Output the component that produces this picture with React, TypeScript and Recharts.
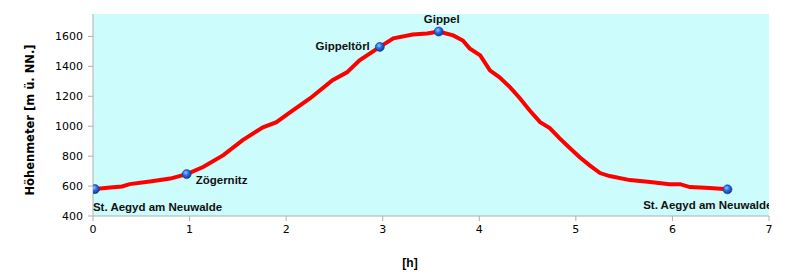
import React from "react";
import {
  ComposedChart,
  Line,
  Scatter,
  XAxis,
  YAxis,
  CartesianGrid,
  ReferenceArea,
} from "recharts";

// elevation profile
const hours = [
  0.02, 0.18, 0.3, 0.38, 0.59, 0.8, 0.97, 1.14, 1.35, 1.55, 1.76, 1.9, 2.04,
  2.25, 2.48, 2.63, 2.76, 2.97, 3.11, 3.31, 3.46, 3.58, 3.73, 3.83, 3.9, 4.01,
  4.11, 4.21, 4.32, 4.42, 4.52, 4.63, 4.73, 4.83, 4.94, 5.04, 5.14, 5.25, 5.35,
  5.56, 5.77, 5.97, 6.08, 6.18, 6.39, 6.57,
];
const elevation = [
  580, 590, 597, 613, 630, 650, 680, 727, 807, 907, 993, 1027, 1093, 1187,
  1307, 1360, 1440, 1530, 1587, 1613, 1620, 1633, 1607, 1573, 1520, 1473, 1373,
  1327, 1260, 1187, 1107, 1027, 987, 920, 853, 793, 740, 687, 667, 640, 627,
  613, 613, 593, 587, 578,
];

const waypointNames = [
  "St. Aegyd am Neuwalde",
  "Zögernitz",
  "Gippeltörl",
  "Gippel",
  "St. Aegyd am Neuwalde",
];
const waypointHours = [0.02, 0.97, 2.97, 3.58, 6.57];
const waypointElevation = [580, 680, 1530, 1633, 578];

const xTicks = [0, 1, 2, 3, 4, 5, 6, 7];
const yTicks = [400, 600, 800, 1000, 1200, 1400, 1600];

// label placement relative to the marker: [dx, dy, anchor]
const labelPlacement: [number, number, string][] = [
  [-2, 22, "start"],
  [9, 10, "start"],
  [-10, 3, "end"],
  [3, -9, "middle"],
  [45, 20, "end"],
];

const profile = hours.map((h, i) => ({ h, elev: elevation[i] }));
const waypoints = waypointNames.map((name, i) => ({
  h: waypointHours[i],
  elev: waypointElevation[i],
  name,
  idx: i,
}));

const tickStyle = { fill: "#000", fontSize: 11, fontFamily: "DejaVu Sans" };
const boldFont = "Liberation Sans";

function WaypointShape(props: any) {
  const { cx, cy, payload } = props;
  const [dx, dy, anchor] = labelPlacement[payload.idx];
  return (
    <g>
      <circle cx={cx} cy={cy} r={4.5} fill="url(#ball)" stroke="#0a3a9a" strokeWidth={0.6} />
      <text
        x={cx + dx}
        y={cy + dy}
        textAnchor={anchor as any}
        fontFamily={boldFont}
        fontWeight="bold"
        fontSize={11.5}
        fill="#111"
      >
        {payload.name}
      </text>
    </g>
  );
}

export default function App() {
  return (
    <div style={{ width: 790, height: 279, background: "#fff" }}>
      <style>{`body{margin:0}`}</style>
      <ComposedChart
        width={790}
        height={279}
        margin={{ top: 14, right: 21, bottom: 0, left: 0 }}
      >
        <defs>
          <radialGradient id="ball" cx="40%" cy="35%" r="65%">
            <stop offset="0%" stopColor="#9cc4ff" />
            <stop offset="45%" stopColor="#2f6fe0" />
            <stop offset="100%" stopColor="#0b3a9c" />
          </radialGradient>
        </defs>
        <ReferenceArea
          x1={0}
          x2={7}
          y1={400}
          y2={1750}
          fill="#ccfcfc"
          fillOpacity={1}
          stroke="none"
          ifOverflow="visible"
        />
        <CartesianGrid vertical={false} stroke="#b4b4b4" horizontalValues={[600, 800, 1000, 1200, 1400, 1600]} />
        <XAxis
          type="number"
          dataKey="h"
          domain={[0, 7]}
          ticks={xTicks}
          allowDataOverflow
          height={63}
          tick={tickStyle}
          tickSize={5}
          tickMargin={4}
          axisLine={{ stroke: "#b0b0b0" }}
          tickLine={{ stroke: "#b0b0b0" }}
          label={{
            content: ({ viewBox }: any) => (
              <text
                x={410}
                y={viewBox.y + 51}
                textAnchor="middle"
                fontFamily={boldFont}
                fontWeight="bold"
                fontSize={12}
                fill="#000"
              >
                [h]
              </text>
            ),
          }}
        />
        <YAxis
          type="number"
          domain={[400, 1750]}
          ticks={yTicks}
          allowDataOverflow
          width={93}
          tick={tickStyle}
          tickSize={5}
          tickMargin={5}
          axisLine={{ stroke: "#b0b0b0" }}
          tickLine={{ stroke: "#b0b0b0" }}
          label={{
            content: ({ viewBox }: any) => (
              <text
                x={0}
                y={0}
                transform={`translate(34, ${viewBox.y + viewBox.height / 2 + 5}) rotate(-90)`}
                textAnchor="middle"
                fontFamily="DejaVu Sans"
                fontWeight="bold"
                fontSize={11.5}
                fill="#000"
              >
                Höhenmeter [m ü. NN.]
              </text>
            ),
          }}
        />
        <Line
          data={profile}
          dataKey="elev"
          type="linear"
          stroke="#ff0000"
          strokeWidth={4}
          dot={false}
          activeDot={false}
          isAnimationActive={false}
        />
        <Scatter
          data={waypoints}
          dataKey="elev"
          shape={<WaypointShape />}
          isAnimationActive={false}
        />
      </ComposedChart>
    </div>
  );
}
